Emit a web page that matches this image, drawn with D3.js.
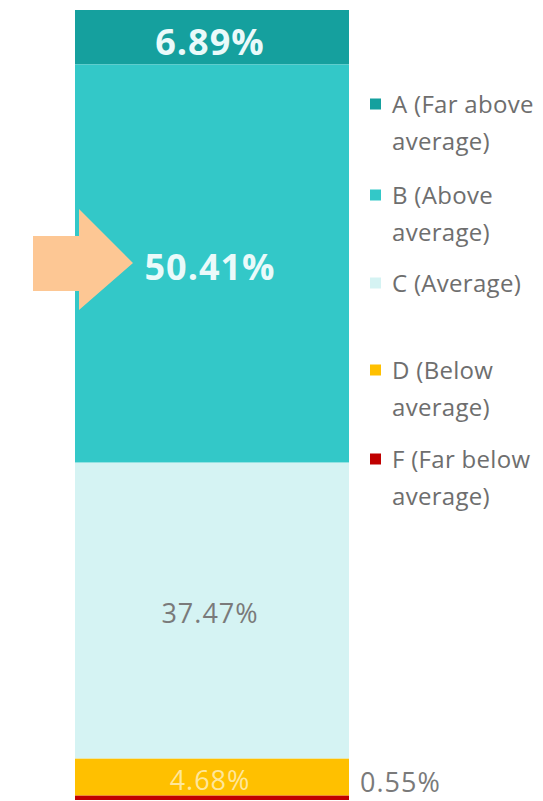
<!DOCTYPE html>
<meta charset="utf-8">
<script src="https://cdn.jsdelivr.net/npm/d3@7"></script>
<style>
    body { margin: 0; background: #fff; }
    text { font-family: "Open Sans", Lato, sans-serif; }
</style>
<body>
<script>

    // data, top of bar first
    var grades = ["A", "B", "C", "D", "F"]
    var legendLines = [
        ["A (Far above", "average)"],
        ["B (Above", "average)"],
        ["C (Average)"],
        ["D (Below", "average)"],
        ["F (Far below", "average)"]
    ]
    var values = [6.89, 50.41, 37.47, 4.68, 0.55]
    var colors = ["#15a09e", "#33c8c8", "#d5f3f3", "#ffc000", "#c00000"]
    var labelColors = ["#eafafa", "#eafafa", "#7a7a7a", "#ffe79a", "#7a7a7a"]

    var W = 543, H = 801
    var barX = 75, barW = 274

    var svg = d3.select("body").append("svg").attr("width", W).attr("height", H)

    // stack from the top
    var rows = []
    var acc = 0
    values.forEach((v, i) => {
        rows.push({grade: grades[i], value: v, y0: acc, y1: acc + v, color: colors[i], lc: labelColors[i]})
        acc += v
    })

    var y = d3.scaleLinear().domain([0, 100]).range([10, 800])

    svg.selectAll(".seg").data(rows).enter().append("rect")
        .attr("class", "seg")
        .attr("x", barX).attr("width", barW)
        .attr("y", (d) => y(d.y0))
        .attr("height", (d) => y(d.y1) - y(d.y0))
        .style("fill", (d) => d.color)

    // value labels
    var fs = [36, 36, 27, 27]
    var wt = ["bold", "bold", "normal", "normal"]
    var dyFix = [5, 4, 3, 3]
    rows.slice(0, 4).forEach((d, i) => {
        svg.append("text")
            .attr("x", barX + barW / 2 - 2)
            .attr("y", (y(d.y0) + y(d.y1)) / 2 + dyFix[i])
            .attr("dy", "0.35em")
            .style("text-anchor", "middle")
            .style("font-size", fs[i] + "px")
            .style("font-weight", wt[i])
            .style("letter-spacing", "1px")
            .style("fill", d.lc)
            .text(d.value.toFixed(2) + "%")
    })
    // F is too thin, label sits beside the bar
    var last = rows[4]
    svg.append("text")
        .attr("x", 360).attr("y", 783).attr("dy", "0.35em")
        .style("font-size", "27px").style("letter-spacing", "1px").style("fill", last.lc)
        .text(last.value.toFixed(2) + "%")

    // legend
    var legendY = [104, 195, 283, 370, 459]
    var lg = svg.selectAll(".lg").data(rows).enter().append("g")
        .attr("class", "lg")
        .attr("transform", (d, i) => "translate(370," + legendY[i] + ")")
    lg.append("rect").attr("x", 0).attr("y", -5.5).attr("width", 11).attr("height", 11)
        .style("fill", (d) => d.color)
    lg.each(function (d, i) {
        var g = d3.select(this)
        legendLines[i].forEach((line, j) => {
            g.append("text")
                .attr("x", 22).attr("y", j * 37 + 1).attr("dy", "0.35em")
                .style("font-size", "24px").style("letter-spacing", "0.3px").style("fill", "#6e6e6e")
                .text(line)
        })
    })

    // orange arrow pointing at B
    var arrow = [[33, 236], [79, 236], [79, 209], [133, 263], [79, 310], [79, 291], [33, 291]]
    svg.append("path")
        .attr("d", d3.line()(arrow) + "Z")
        .style("fill", "#fdc794")

</script>
</body>
